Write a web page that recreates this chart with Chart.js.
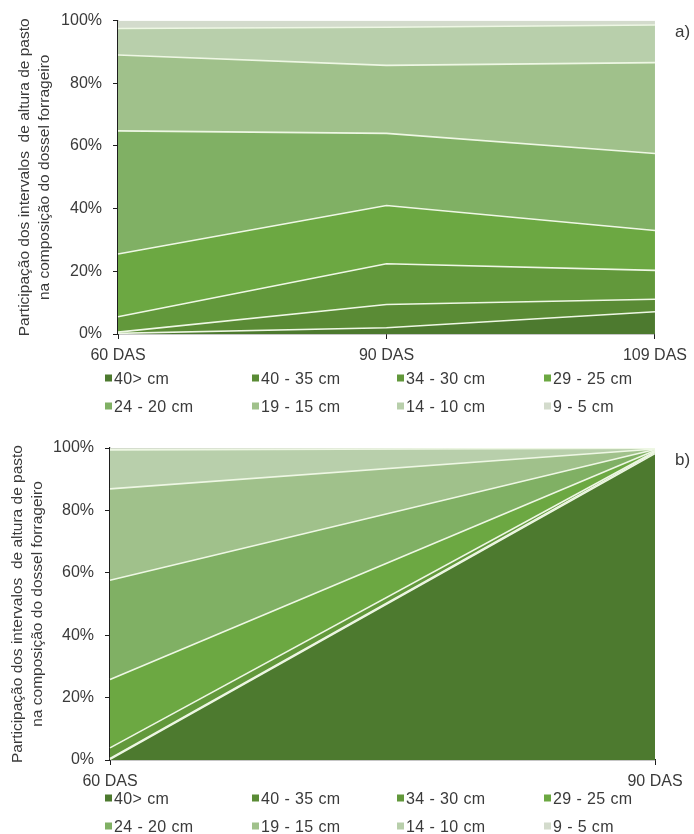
<!DOCTYPE html>
<html lang="pt">
<head>
<meta charset="utf-8">
<script src="https://cdn.jsdelivr.net/npm/chart.js@4/dist/chart.umd.min.js"></script>
<style>
  html, body { margin: 0; padding: 0; background: #fff; }
  body { width: 694px; height: 834px; position: relative; overflow: hidden;
         font-family: "Liberation Sans", Arial, sans-serif; color: #3a3a3a; }
  .panel { position: absolute; left: 0; width: 694px; height: 417px; }
  .panel canvas { position: absolute; left: 0; top: 0; }
  .tag { position: absolute; font-size: 17px; line-height: 17px; }
  .item { position: absolute; font-size: 16px; line-height: 17px; letter-spacing: 0.4px;
          white-space: nowrap; transform: translateY(-50%); }
  .item i { display: inline-block; width: 7px; height: 7px; margin-right: 2px; vertical-align: 2px; }
</style>
</head>
<body>
<div class="panel" id="panelA" style="top:0"><canvas id="chartA" width="694" height="417"></canvas></div>
<div class="panel" id="panelB" style="top:417px"><canvas id="chartB" width="694" height="417"></canvas></div>
<div class="tag" style="left:675px;top:23px">a)</div>
<div class="tag" style="left:675px;top:451px">b)</div>

<script>
// Height classes of the forage canopy (bottom to top of the stack)
const heightClasses = ['40> cm', '40 - 35 cm', '34 - 30 cm', '29 - 25 cm',
                       '24 - 20 cm', '19 - 15 cm', '14 - 10 cm', '9 - 5 cm'];
const classColors = ['#4d7a2f', '#5a8b35', '#62983b', '#6ca842',
                     '#80b064', '#a0c18b', '#b8cfab', '#d3dbcc'];

// Panel a) evaluation dates
const daysA = ['60 DAS', '90 DAS', '109 DAS'];
// Share (%) of each height class, panel a)
const a40plus = [0.2, 2.0, 7.1];
const a40to35 = [0.4, 7.4, 4.0];
const a34to30 = [4.9, 13.0, 9.2];
const a29to25 = [20.0, 18.6, 12.7];
const a24to20 = [39.3, 23.0, 24.6];
const a19to15 = [24.2, 21.7, 29.0];
const a14to10 = [8.5, 12.2, 12.0];
const a9to5   = [2.5, 2.1, 1.4];

// Panel b) evaluation dates
const daysB = ['60 DAS', '90 DAS'];
// Share (%) of each height class, panel b)
const b40plus = [0.2, 98.2];
const b40to35 = [0.3, 0.4];
const b34to30 = [3.4, 0.3];
const b29to25 = [21.9, 0.3];
const b24to20 = [31.8, 0.3];
const b19to15 = [29.3, 0.2];
const b14to10 = [12.5, 0.2];
const b9to5   = [0.6, 0.1];

const percentTicks = [0, 20, 40, 60, 80, 100];
const axisTitle = ['Participação dos intervalos  de altura de pasto',
                   'na composição do dossel forrageiro'];

const FONT = '"Liberation Sans", Arial, sans-serif';
const INK = '#3a3a3a';

function buildDatasets(series) {
  return series.map((values, i) => ({
    label: heightClasses[i],
    data: values,
    backgroundColor: classColors[i],
    borderColor: i === series.length - 1 ? 'rgba(0,0,0,0)' : '#eef7e4',
    borderWidth: 1.6,
    pointRadius: 0,
    pointHoverRadius: 0,
    tension: 0,
    fill: i === 0 ? 'origin' : '-1'
  }));
}

function makeChart(canvasId, labels, series, box) {
  const ctx = document.getElementById(canvasId);
  return new Chart(ctx, {
    type: 'line',
    data: { labels: labels, datasets: buildDatasets(series) },
    options: {
      responsive: false,
      animation: false,
      events: [],
      layout: { padding: { top: box.top, right: 694 - box.right, bottom: 0, left: 0 } },
      plugins: { legend: { display: false }, tooltip: { enabled: false } },
      scales: {
        x: {
          type: 'category',
          offset: false,
          border: { display: true, color: '#1e1e1e', width: 1.2 },
          grid: { display: true, drawOnChartArea: false, drawTicks: true, tickLength: 5, color: '#1e1e1e', lineWidth: 1 },
          ticks: { color: INK, font: { family: FONT, size: 16 }, padding: 7, maxRotation: 0, autoSkip: false },
          afterFit: (s) => { s.height = 417 - box.bottom; }
        },
        y: {
          stacked: true,
          min: 0,
          max: 100,
          afterBuildTicks: (s) => { s.ticks = percentTicks.map(v => ({ value: v })); },
          border: { display: true, color: '#1e1e1e', width: 1.2 },
          grid: { display: true, drawOnChartArea: false, drawTicks: true, tickLength: 5, color: '#1e1e1e', lineWidth: 1 },
          ticks: { color: INK, font: { family: FONT, size: 16 }, padding: 11, callback: (v) => v + '%' },
          title: {
            display: true,
            text: axisTitle,
            color: INK,
            font: { family: FONT, size: 15.5, lineHeight: 1.29 },
            padding: { top: box.titleTop, bottom: 0 }
          },
          afterFit: (s) => { s.width = box.left; }
        }
      }
    }
  });
}

makeChart('chartA', daysA,
  [a40plus, a40to35, a34to30, a29to25, a24to20, a19to15, a14to10, a9to5],
  { top: 19, bottom: 334, left: 118, right: 660, titleTop: 15 });

makeChart('chartB', daysB,
  [b40plus, b40to35, b34to30, b29to25, b24to20, b19to15, b14to10, b9to5],
  { top: 31, bottom: 343, left: 110, right: 655, titleTop: 8 });

// Legends: two rows of four classes under each panel
const legendCols = [105, 252, 397, 544];
function buildLegend(rowCenters) {
  heightClasses.forEach((name, i) => {
    const el = document.createElement('div');
    el.className = 'item';
    el.style.left = legendCols[i % 4] + 'px';
    el.style.top = rowCenters[Math.floor(i / 4)] + 'px';
    const sw = document.createElement('i');
    sw.style.background = classColors[i];
    el.appendChild(sw);
    el.appendChild(document.createTextNode(name));
    document.body.appendChild(el);
  });
}
buildLegend([378, 406]);
buildLegend([798, 826]);
</script>
</body>
</html>
